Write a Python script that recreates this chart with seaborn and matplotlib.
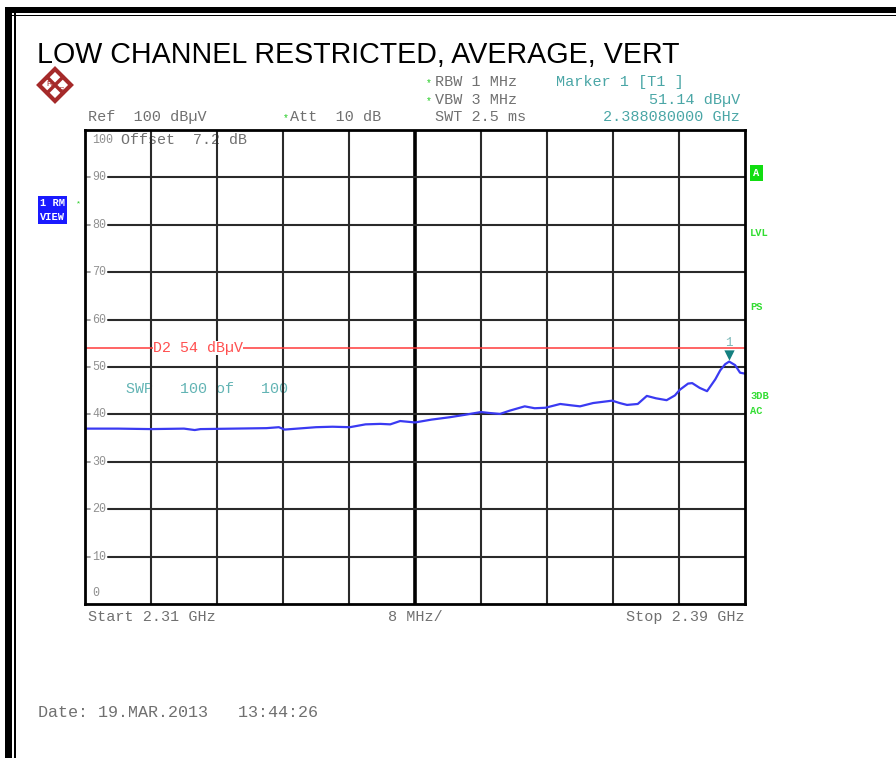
import numpy as np
import matplotlib
matplotlib.use("Agg")
import matplotlib.pyplot as plt
import matplotlib.transforms as mtransforms
from matplotlib.patches import Rectangle, Polygon
import seaborn as sns

# trace: frequency (MHz) vs level (dBuV)
freq_mhz = [2310, 2314, 2318, 2322, 2323.3, 2324, 2328, 2332, 2333.5, 2334.2,
            2338, 2340, 2342.1, 2344, 2345.8, 2347, 2348.2, 2350, 2352, 2354.2,
            2356, 2358, 2359, 2360.3, 2361.5, 2363.3, 2364.5, 2365.8, 2367.6, 2369,
            2370, 2371.6, 2373.9, 2374.8, 2375.7, 2377, 2378.1, 2379.2, 2380.5,
            2381.5, 2382.1, 2383.1, 2383.6, 2384.5, 2385.4, 2386.4, 2387, 2387.6,
            2388.08, 2388.8, 2389.4, 2390]
level_dbuv = [37.0, 37.0, 36.9, 37.0, 36.7, 36.9, 37.0, 37.1, 37.3, 36.8,
              37.3, 37.4, 37.3, 37.9, 38.0, 37.9, 38.6, 38.3, 38.9, 39.4,
              39.9, 40.5, 40.3, 40.1, 40.8, 41.7, 41.3, 41.4, 42.2, 41.9,
              41.7, 42.4, 42.9, 42.4, 42.0, 42.2, 43.9, 43.4, 43.0,
              44.0, 45.2, 46.5, 46.6, 45.6, 44.9, 47.4, 49.3, 50.6,
              51.14, 50.4, 48.8, 48.6]

limit_dbuv = 54
marker_freq = 2388.08
marker_level = 51.14
y_ticks = [0, 10, 20, 30, 40, 50, 60, 70, 80, 90, 100]
x_start, x_stop, x_div = 2310, 2390, 8

W, H = 896, 758


def fx(x):
    return x / W


def fy(y):
    return 1 - y / H


sns.set_style("white")
plt.rcParams["font.family"] = ["Liberation Mono", "DejaVu Sans Mono"]

fig = plt.figure(figsize=(W / 100, H / 100), dpi=100)
ax = fig.add_axes([fx(85), fy(604), fx(745) - fx(85), fy(130) - fy(604)])
ax.set_xlim(x_start, x_stop)
ax.set_ylim(0, 100)
ax.set_xticks([])
ax.set_yticks([])
for sp in ax.spines.values():
    sp.set_color("black")
    sp.set_linewidth(2)
    sp.set_zorder(6)

grid_col = "#2a2a2a"
for f in np.arange(x_start + x_div, x_stop, x_div):
    lw = 2.6 if f == (x_start + x_stop) / 2 else 1.5
    ax.axvline(f, color="black" if lw > 2 else grid_col, lw=lw, zorder=2)
for v in y_ticks[1:-1]:
    ax.axhline(v, xmin=0.035, xmax=1, color=grid_col, lw=1.5, zorder=2)
    ax.axhline(v, xmin=0, xmax=0.008, color="#888888", lw=1.2, zorder=2)

# y labels sit inside the grid
trans = mtransforms.blended_transform_factory(ax.transAxes, ax.transData)
for v in y_ticks:
    yy = v
    if v == 100:
        yy = 97.8
    elif v == 0:
        yy = 2.4
    ax.text(0.011, yy, str(v), transform=trans, fontsize=8.4, color="#909090",
            va="center", ha="left", zorder=3)

# display line D2
ax.axhline(limit_dbuv, color="#ff3b3b", lw=1.1, zorder=2)
ax.text(0.103, limit_dbuv, "D2 54 dB\u00b5V", transform=trans, fontsize=10.8,
        color="#ff5050", va="center", ha="left", zorder=3,
        bbox=dict(facecolor="white", edgecolor="none", pad=0))

ax.text(0.062, 45.4, "SWP   100 of   100", transform=trans, fontsize=10.8,
        color="#62b4b4", va="center", ha="left", zorder=1)

sns.lineplot(x=freq_mhz, y=level_dbuv, ax=ax, color="#3a3af2", lw=1.6,
             zorder=4, estimator=None, sort=False)

ax.scatter([marker_freq], [marker_level + 1.4], marker="v", s=55,
           color="#148080", zorder=5, linewidths=0)
ax.text(marker_freq, marker_level + 3.9, "1", fontsize=9, color="#7ab8b8",
        ha="center", va="center", zorder=5)

ax.text(0.054, 97.8, "Offset  7.2 dB", transform=trans, fontsize=10.8,
        color="#707070", va="center", ha="left", zorder=1)

# header
fig.text(fx(37), fy(63), "LOW CHANNEL RESTRICTED, AVERAGE, VERT",
         fontsize=20.6, family="Liberation Sans", color="black", va="baseline")

mono = dict(fontsize=10.9, color="#707070", va="baseline")
fig.text(fx(88), fy(121), "Ref  100 dB\u00b5V", **mono)
fig.text(fx(290), fy(121), "Att  10 dB", **mono)
fig.text(fx(435), fy(86), "RBW 1 MHz", **mono)
fig.text(fx(435), fy(104), "VBW 3 MHz", **mono)
fig.text(fx(435), fy(121), "SWT 2.5 ms", **mono)
for xx, yy in [(283, 121), (426, 86), (426, 104)]:
    fig.text(fx(xx), fy(yy), "*", fontsize=7, color="#22cc22", va="baseline",
             ha="left")
teal = dict(fontsize=10.9, color="#4aa6a6", va="baseline")
fig.text(fx(556), fy(86), "Marker 1 [T1 ]", **teal)
fig.text(fx(740), fy(104), "51.14 dB\u00b5V", ha="right", **teal)
fig.text(fx(740), fy(121), "2.388080000 GHz", ha="right", **teal)

fig.text(fx(88), fy(621), "Start 2.31 GHz", **mono)
fig.text(fx(415), fy(621), "8 MHz/", ha="center", **mono)
fig.text(fx(745), fy(621), "Stop 2.39 GHz", ha="right", **mono)
fig.text(fx(38), fy(717), "Date: 19.MAR.2013   13:44:26", fontsize=12.1,
         color="#707070", va="baseline")

# trace/view badges on the left
for label, yy in [("1 RM", 206), ("VIEW", 220)]:
    fig.text(fx(40), fy(yy), label, fontsize=7.5, color="white",
             weight="bold", va="baseline",
             bbox=dict(facecolor="#1a1aff", edgecolor="none", pad=1.2))
fig.text(fx(76), fy(205), "*", fontsize=6, color="#22cc22", va="baseline")

# status flags on the right
fig.text(fx(753), fy(176), "A", fontsize=7.5, color="white", weight="bold",
         va="baseline", bbox=dict(facecolor="#11dd11", edgecolor="none",
                                  pad=2.5))
green = dict(fontsize=7.5, color="#33dd33", weight="bold", va="baseline")
fig.text(fx(750), fy(236), "LVL", **green)
fig.text(fx(750), fy(310), "PS", **green)
fig.text(fx(750), fy(399), "3DB", **green)
fig.text(fx(750), fy(414), "AC", **green)

# R&S logo, rough
cx, cy, r = 55, 85, 16
diamond = [(fx(cx - r), fy(cy)), (fx(cx), fy(cy - r)),
           (fx(cx + r), fy(cy)), (fx(cx), fy(cy + r))]
fig.add_artist(Polygon(diamond, closed=True, fill=False, edgecolor="#a52a2a",
                       lw=3))
fig.add_artist(plt.Line2D([fx(cx - 8), fx(cx + 8)], [fy(cy - 8), fy(cy + 8)],
                          color="#a52a2a", lw=2.5))
fig.add_artist(plt.Line2D([fx(cx - 8), fx(cx + 8)], [fy(cy + 8), fy(cy - 8)],
                          color="#a52a2a", lw=2.5))
fig.text(fx(cx - 6), fy(cy - 1), "R", fontsize=6, color="#a52a2a",
         ha="center", va="center", family="Liberation Sans")
fig.text(fx(cx + 6), fy(cy + 6), "S", fontsize=6, color="#a52a2a",
         ha="center", va="center", family="Liberation Sans")

# page frame
fig.add_artist(Rectangle((fx(5), fy(13)), 1, 6 / H, color="black", lw=0))
fig.add_artist(Rectangle((fx(5), fy(16)), 1, 1.3 / H, color="black", lw=0))
fig.add_artist(Rectangle((fx(5), 0), 7 / W, fy(7), color="black", lw=0))
fig.add_artist(Rectangle((fx(14), 0), 1.5 / W, fy(13), color="black", lw=0))

fig.savefig("out.png", dpi=100)
